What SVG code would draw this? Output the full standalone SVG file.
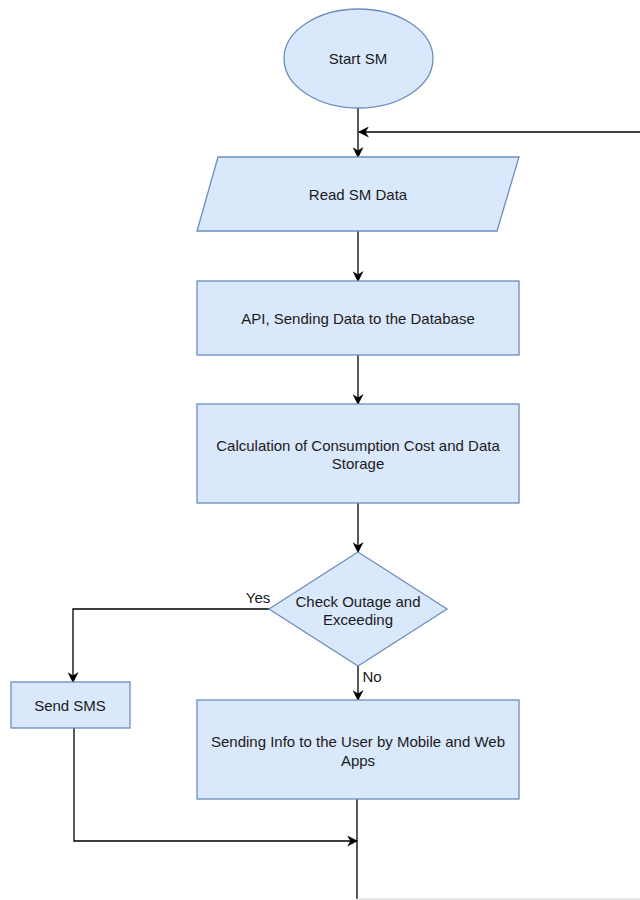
<svg xmlns="http://www.w3.org/2000/svg" width="640" height="900" viewBox="0 0 640 900">
<defs>
<marker id="ah" viewBox="0 0 10 10" refX="9" refY="5" markerWidth="11" markerHeight="11" markerUnits="userSpaceOnUse" orient="auto">
<path d="M0,0 L10,5 L0,10 L3,5 Z" fill="#000"/>
</marker>
<style>
.n{fill:#dae8fc;stroke:#6c8ebf;stroke-width:1.3}
.t{font-family:"Liberation Sans",Arial,sans-serif;font-size:15px;fill:#1a1a1a;text-anchor:middle;dominant-baseline:central}
.e{fill:none;stroke:#000;stroke-width:1.3}
.a{marker-end:url(#ah)}
</style>
</defs>
<rect width="640" height="900" fill="#fff"/>
<g id="connectors">
<path class="e a" d="M358,108 V157"/>
<path class="e a" d="M640,132 H359"/>
<path class="e a" d="M358,231 V281"/>
<path class="e a" d="M358,355 V404"/>
<path class="e a" d="M358,503 V552"/>
<path class="e a" d="M269,609 H73 V682"/>
<path class="e a" d="M358,666 V700"/>
<path class="e a" d="M74,728 V841 H357"/>
<path class="e" d="M357,799 V899"/>
<path d="M357,899 H640" fill="none" stroke="#ccc" stroke-width="1"/>
<text class="t" x="258" y="597">Yes</text>
<text class="t" x="372" y="676">No</text>
</g>
<g id="start"><ellipse class="n" cx="358.5" cy="58.5" rx="74.5" ry="49.5"/><text class="t" x="358" y="58">Start SM</text></g>
<g id="read"><polygon class="n" points="218,157 519,157 497,231 197,231"/><text class="t" x="358" y="194">Read SM Data</text></g>
<g id="api"><rect class="n" x="197" y="281" width="322" height="74"/><text class="t" x="358" y="318">API, Sending Data to the Database</text></g>
<g id="calc"><rect class="n" x="197" y="404" width="322" height="99"/><text class="t" x="358" y="445">Calculation of Consumption Cost and Data</text><text class="t" x="358" y="463">Storage</text></g>
<g id="check"><polygon class="n" points="358,552 447,609 358,666 269,609"/><text class="t" x="358" y="601">Check Outage and</text><text class="t" x="358" y="619">Exceeding</text></g>
<g id="sms"><rect class="n" x="11" y="682" width="119" height="46"/><text class="t" x="70" y="705">Send SMS</text></g>
<g id="info"><rect class="n" x="197" y="700" width="322" height="99"/><text class="t" x="358" y="741">Sending Info to the User by Mobile and Web</text><text class="t" x="358" y="760">Apps</text></g>
</svg>
